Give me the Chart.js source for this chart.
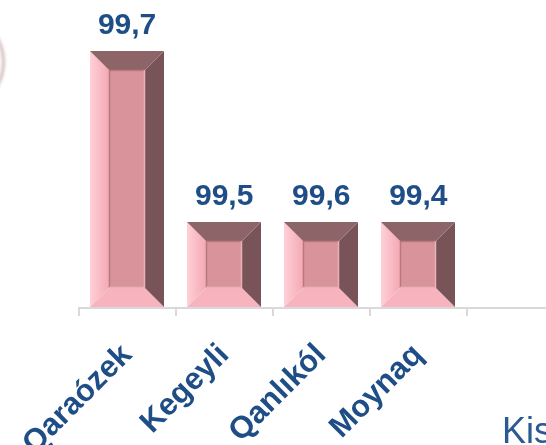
<!DOCTYPE html>
<html>
<head>
<meta charset="utf-8">
<script src="https://cdn.jsdelivr.net/npm/chart.js@4"></script>
<style>
  html, body { margin: 0; padding: 0; background: #fff; overflow: hidden; }
  #wrap { position: relative; width: 546px; height: 445px; overflow: hidden; }
  #barChart { position: absolute; left: 0; top: 0; }
  #ring {
    position: absolute; left: -85px; top: 14px; width: 84px; height: 90px;
    border-radius: 50%; border: 3px solid rgba(130, 70, 70, 0.35); filter: blur(1.5px);
  }
  #kis {
    position: absolute; left: 502px; top: 410px; line-height: 36px;
    font: 36px "Liberation Sans", Arial, sans-serif; color: #2a5a91;
  }
</style>
</head>
<body>
<div id="wrap">
  <div id="ring"></div>
  <canvas id="barChart" width="600" height="445"></canvas>
  <span id="kis">Kis</span>
</div>
<script>
// categories (last slot is empty in the picture)
const districts = ["Qaraózek", "Kegeyli", "Qanlıkól", "Moynaq", ""];
// bar heights as drawn
const barValues = [99.7, 99.5, 99.5, 99.5, null];
// value labels printed above bars
const valueLabels = ["99,7", "99,5", "99,6", "99,4", ""];

const labelBlue = "#1f4e86";

function poly(ctx, pts, fill) {
  ctx.beginPath();
  ctx.moveTo(pts[0][0], pts[0][1]);
  for (let k = 1; k < pts.length; k++) ctx.lineTo(pts[k][0], pts[k][1]);
  ctx.closePath();
  ctx.fillStyle = fill;
  ctx.fill();
}

// draws the bevelled "picture frame" bars and the numbers on top
const bevelBars = {
  id: "bevelBars",
  afterDatasetsDraw(chart) {
    const ctx = chart.ctx;
    const meta = chart.getDatasetMeta(0);
    meta.data.forEach((bar, i) => {
      if (barValues[i] == null) return;
      const p = bar.getProps(["x", "y", "base", "width"], true);
      const l = Math.round(p.x - p.width / 2);
      const r = Math.round(p.x + p.width / 2);
      const t = Math.round(p.y);
      const b = Math.round(Math.min(p.base, chart.chartArea.bottom)) - 1;
      const d = 19;
      ctx.save();

      // left side
      const lg = ctx.createLinearGradient(l, 0, l + d, 0);
      lg.addColorStop(0, "#ffd0d8");
      lg.addColorStop(1, "#f3a9b4");
      poly(ctx, [[l, t], [l + d, t + d], [l + d, b - d], [l, b]], lg);
      // bottom
      poly(ctx, [[l, b], [l + d, b - d], [r - d, b - d], [r, b]], "#f7b4be");
      // right
      poly(ctx, [[r, t], [r, b], [r - d, b - d], [r - d, t + d]], "#785458");
      // top
      poly(ctx, [[l, t], [r, t], [r - d, t + d], [l + d, t + d]], "#8d6467");

      // face
      ctx.fillStyle = "#d9949b";
      ctx.fillRect(l + d, t + d, r - l - 2 * d, b - t - 2 * d);
      // inset border of the face
      ctx.lineWidth = 1.5;
      ctx.strokeStyle = "#b9787f";
      ctx.beginPath();
      ctx.moveTo(l + d + 0.5, b - d);
      ctx.lineTo(l + d + 0.5, t + d + 0.5);
      ctx.lineTo(r - d, t + d + 0.5);
      ctx.stroke();
      ctx.strokeStyle = "#eab0b7";
      ctx.beginPath();
      ctx.moveTo(r - d - 0.5, t + d);
      ctx.lineTo(r - d - 0.5, b - d - 0.5);
      ctx.lineTo(l + d, b - d - 0.5);
      ctx.stroke();

      // value label
      ctx.fillStyle = labelBlue;
      ctx.font = "bold 30px 'Liberation Sans', Arial, sans-serif";
      ctx.textAlign = "center";
      ctx.textBaseline = "alphabetic";
      ctx.fillText(valueLabels[i], p.x, t - 17);
      ctx.restore();
    });
  }
};

new Chart(document.getElementById("barChart").getContext("2d"), {
  type: "bar",
  data: {
    labels: districts,
    datasets: [{
      data: barValues,
      backgroundColor: "rgba(0,0,0,0)",
      borderWidth: 0,
      categoryPercentage: 1,
      barPercentage: 0.76
    }]
  },
  options: {
    responsive: false,
    animation: false,
    events: [],
    layout: { padding: { left: 74, right: 36, top: 0, bottom: 0 } },
    plugins: { legend: { display: false }, tooltip: { enabled: false } },
    scales: {
      x: {
        grid: { offset: true, drawOnChartArea: false, tickLength: 8, color: "#d9d9d9", lineWidth: 2 },
        border: { color: "#d9d9d9", width: 2 },
        ticks: {
          color: labelBlue,
          font: { family: "'Liberation Sans', Arial, sans-serif", size: 31, weight: "bold" },
          minRotation: 45,
          maxRotation: 45,
          padding: 21,
          autoSkip: false
        },
        afterFit(scale) { scale.height = 137; }
      },
      y: { display: false, min: 99.4, max: 99.76 }
    }
  },
  plugins: [bevelBars]
});
</script>
</body>
</html>
